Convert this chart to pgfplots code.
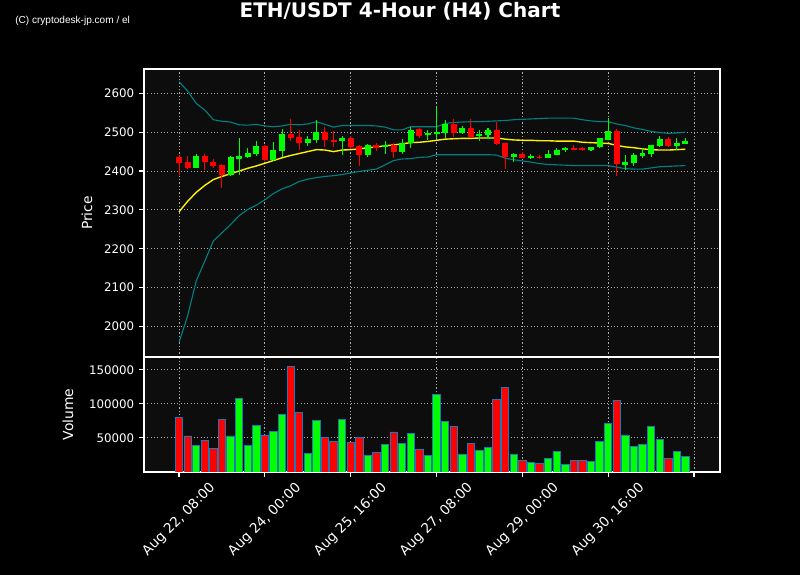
\documentclass[border=0pt]{standalone}
\usepackage{pgfplots}
\pgfplotsset{compat=1.18}
\usepackage{pgfplotstable}
\usepackage{fontspec}
\setmainfont{DejaVu Sans}
\newfontfamily\wmfont{Liberation Sans}
\definecolor{cup}{RGB}{0,255,0}
\definecolor{cdn}{RGB}{255,0,0}
\definecolor{cbb}{RGB}{0,128,128}
\definecolor{cedge}{RGB}{31,119,180}
\definecolor{cbg}{RGB}{13,13,13}
\definecolor{cgrid}{RGB}{170,170,170}

\pgfplotstableread{
i o h l c v
0 2435 2440 2390 2421 80400
1 2424 2438 2406 2409 52900
2 2409 2443 2409 2439 38400
3 2439 2443 2402 2422 45600
4 2424 2430 2408 2414 34000
5 2416 2419 2356 2389 77500
6 2390 2438 2388 2435 52900
7 2432 2484 2390 2439 108000
8 2437 2459 2433 2447 38400
9 2445 2476 2439 2464 68800
10 2465 2467 2427 2429 54300
11 2429 2474 2427 2455 60100
12 2452 2508 2437 2495 84800
13 2496 2534 2476 2485 154400
14 2488 2505 2455 2471 87700
15 2471 2490 2464 2483 27500
16 2481 2532 2472 2501 76100
17 2501 2513 2463 2479 51400
18 2481 2503 2461 2476 44200
19 2476 2489 2442 2484 77500
20 2484 2489 2456 2463 42700
21 2464 2467 2414 2442 50000
22 2442 2470 2435 2467 23900
23 2467 2472 2451 2459 28200
24 2463 2476 2443 2466 39800
25 2466 2472 2433 2448 58700
26 2448 2482 2445 2472 41300
27 2472 2514 2459 2506 57200
28 2507 2510 2485 2490 32600
29 2492 2505 2481 2498 23900
30 2497 2567 2483 2501 113700
31 2499 2531 2484 2521 74600
32 2521 2533 2487 2497 67400
33 2497 2515 2494 2511 25400
34 2511 2534 2484 2488 41300
35 2489 2505 2477 2496 31100
36 2493 2511 2482 2506 35500
37 2506 2527 2467 2470 106500
38 2472 2473 2406 2436 123900
39 2435 2447 2424 2444 25400
40 2444 2449 2434 2434 16700
41 2435 2443 2431 2438 13800
42 2437 2441 2431 2435 12300
43 2434 2454 2433 2444 19600
44 2442 2459 2441 2455 29700
45 2453 2461 2449 2458 10900
46 2458 2467 2454 2455 16700
47 2458 2463 2451 2455 16700
48 2455 2463 2451 2462 15200
49 2461 2485 2459 2484 44200
50 2481 2536 2480 2504 71700
51 2504 2508 2387 2417 105000
52 2416 2442 2403 2422 54300
53 2420 2446 2414 2442 36900
54 2438 2459 2433 2447 39800
55 2444 2467 2435 2467 67400
56 2465 2489 2461 2483 47100
57 2483 2487 2461 2465 19600
58 2465 2485 2455 2473 29700
59 2470 2484 2469 2476 22500
}\candles

\pgfplotstableread{
i sma up lo
0 2295 2630 1959
1 2322 2606 2027
2 2345 2574 2117
3 2363 2557 2168
4 2378 2532 2220
5 2386 2528 2241
6 2393 2526 2262
7 2400 2519 2285
8 2407 2518 2301
9 2413 2520 2312
10 2420 2516 2326
11 2427 2514 2342
12 2434 2516 2354
13 2440 2520 2362
14 2445 2519 2373
15 2450 2521 2379
16 2455 2527 2383
17 2454 2520 2386
18 2450 2513 2388
19 2454 2517 2391
20 2455 2517 2395
21 2457 2517 2399
22 2460 2517 2402
23 2462 2516 2405
24 2465 2513 2416
25 2467 2506 2427
26 2470 2506 2431
27 2473 2514 2432
28 2474 2514 2435
29 2476 2514 2436
30 2479 2514 2442
31 2482 2522 2442
32 2483 2525 2442
33 2484 2526 2442
34 2484 2527 2442
35 2485 2527 2442
36 2485 2528 2442
37 2485 2529 2441
38 2482 2530 2433
39 2480 2532 2429
40 2479 2533 2426
41 2479 2534 2423
42 2478 2535 2419
43 2478 2536 2417
44 2477 2536 2416
45 2477 2536 2415
46 2477 2536 2414
47 2474 2532 2414
48 2473 2529 2414
49 2472 2527 2414
50 2471 2527 2414
51 2466 2521 2410
52 2462 2517 2406
53 2460 2511 2405
54 2457 2507 2405
55 2455 2502 2408
56 2454 2499 2411
57 2454 2497 2412
58 2455 2498 2413
59 2456 2500 2414
}\bands

\pgfplotsset{
  darkax/.style={
    scale only axis,
    width=414.7pt,
    xmin=-4.08, xmax=63.03,
    axis background/.style={fill=cbg},
    axis line style={white, line width=1pt},
    tick style={white, line width=0.8pt},
    major tick length=3.5pt,
    tick align=outside,
    xtick pos=bottom, ytick pos=left,
    xtick={0,10,...,60},
    grid=major,
    grid style={cgrid, line width=0.7pt, dash pattern=on 0.8pt off 1.6pt},
    ticklabel style={white},
    label style={white, font=\fontsize{10}{12}\selectfont},
    yticklabel style={font=\fontsize{8.5}{10}\selectfont},
    /pgf/number format/assume math mode=true,
    /pgf/number format/1000 sep={},
    scaled y ticks=false,
  }
}

\begin{document}
\begin{tikzpicture}
\fill[black] (0,0) rectangle (576pt,414pt);
\node[white, font=\fontsize{14.4}{17}\selectfont\bfseries] at (288pt,406pt) {ETH/USDT 4-Hour (H4) Chart};
\node[white, anchor=west, inner sep=0pt, font=\wmfont\fontsize{7.25}{8.5}\selectfont] at (10.8pt,399pt) {(C) cryptodesk-jp.com / el};

\begin{axis}[darkax,
  at={(103.7pt,157pt)}, anchor=south west,
  height=207.3pt,
  ymin=1921.5, ymax=2662.5,
  ytick={2000,2100,...,2600},
  xticklabels={},
  xtick style={draw=none},
  ylabel={Price},
  ylabel style={at={(axis description cs:-0.099,0.5)}, anchor=center, rotate=0},
]
\addplot[cbb, line width=0.8pt] table[x=i,y=up]{\bands};
\addplot[cbb, line width=0.8pt] table[x=i,y=lo]{\bands};
\addplot[yellow, line width=1pt] table[x=i,y=sma]{\bands};
% wicks
\addplot[draw=none, mark=none, restrict expr to domain={\thisrow{c}-\thisrow{o}}{0:1000},
  error bars/.cd, y dir=both, y explicit, error mark=none,
  error bar style={draw=cup, line width=0.75pt}]
  table[x=i, y expr={(\thisrow{h}+\thisrow{l})/2}, y error expr={(\thisrow{h}-\thisrow{l})/2}]{\candles};
\addplot[draw=none, mark=none, restrict expr to domain={\thisrow{c}-\thisrow{o}}{-1000:-0.001},
  error bars/.cd, y dir=both, y explicit, error mark=none,
  error bar style={draw=cdn, line width=0.75pt}]
  table[x=i, y expr={(\thisrow{h}+\thisrow{l})/2}, y error expr={(\thisrow{h}-\thisrow{l})/2}]{\candles};
% bodies
\addplot[draw=none, mark=none, restrict expr to domain={\thisrow{c}-\thisrow{o}}{0:1000},
  error bars/.cd, y dir=both, y explicit, error mark=none,
  error bar style={draw=cup, line width=4.3pt}]
  table[x=i, y expr={(\thisrow{o}+\thisrow{c})/2}, y error expr={abs(\thisrow{c}-\thisrow{o})/2}]{\candles};
\addplot[draw=none, mark=none, restrict expr to domain={\thisrow{c}-\thisrow{o}}{-1000:-0.001},
  error bars/.cd, y dir=both, y explicit, error mark=none,
  error bar style={draw=cdn, line width=4.3pt}]
  table[x=i, y expr={(\thisrow{o}+\thisrow{c})/2}, y error expr={abs(\thisrow{c}-\thisrow{o})/2}]{\candles};
\end{axis}

\begin{axis}[darkax,
  at={(103.7pt,74.2pt)}, anchor=south west,
  height=82.8pt,
  ymin=0, ymax=169000,
  ytick={50000,100000,150000},
  yticklabel style={/pgf/number format/fixed},
  xticklabels={{Aug 22, 08:00},{Aug 24, 00:00},{Aug 25, 16:00},{Aug 27, 08:00},{Aug 29, 00:00},{Aug 30, 16:00},{}},
  xticklabel style={yshift=-31pt, rotate=45, anchor=center, font=\fontsize{9.8}{11.5}\selectfont},
  ylabel={Volume},
  ylabel style={at={(axis description cs:-0.132,0.5)}, anchor=center, rotate=0},
]
\addplot[ybar, bar width=0.86, bar shift=0pt, fill=cup, draw=cedge, line width=0.6pt,
  restrict expr to domain={\thisrow{c}-\thisrow{o}}{0:1000}] table[x=i,y=v]{\candles};
\addplot[ybar, bar width=0.86, bar shift=0pt, fill=cdn, draw=cedge, line width=0.6pt,
  restrict expr to domain={\thisrow{c}-\thisrow{o}}{-1000:-0.001}] table[x=i,y=v]{\candles};
\end{axis}
\pgfresetboundingbox
\path[use as bounding box] (0,0) rectangle (576pt,414pt);
\end{tikzpicture}
\end{document}
